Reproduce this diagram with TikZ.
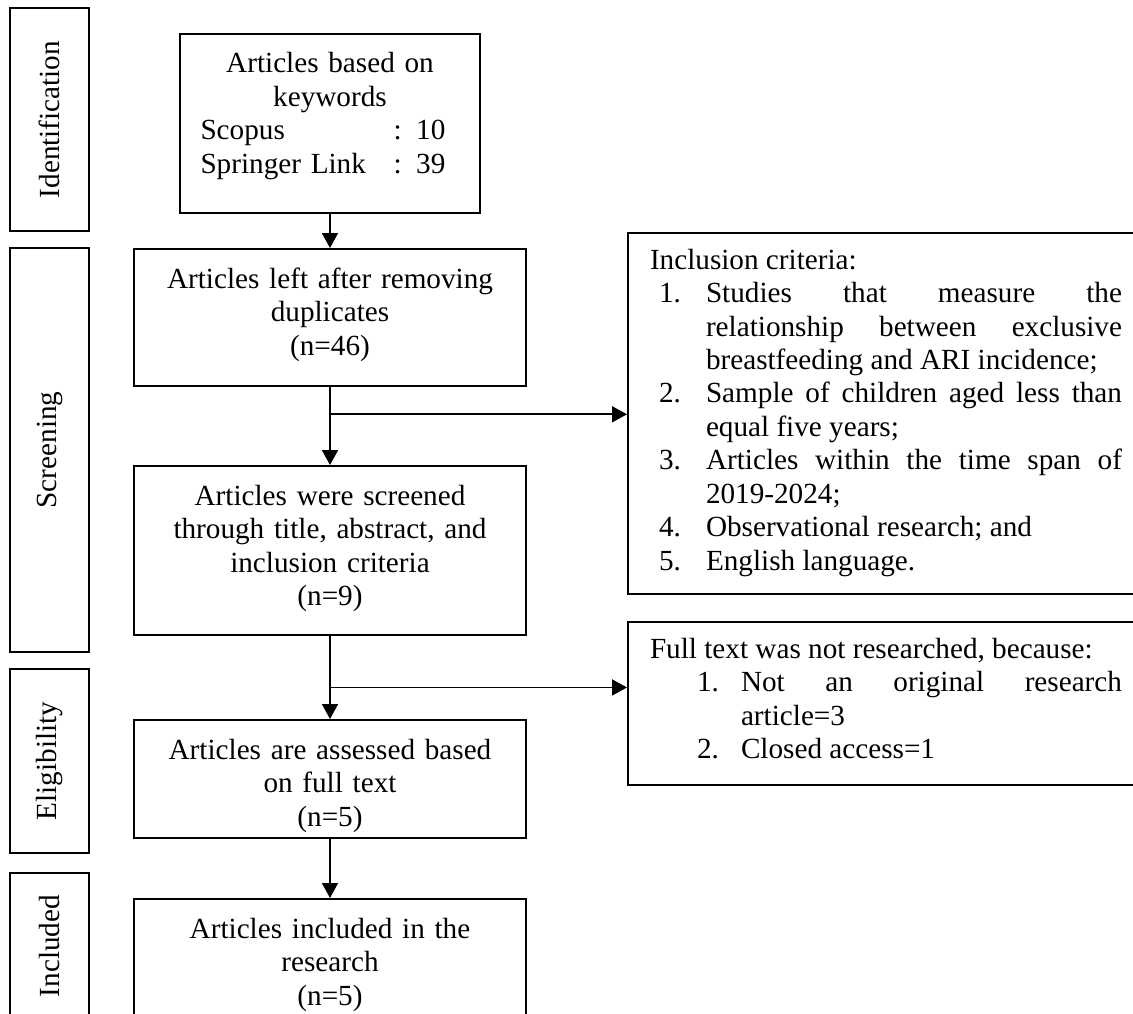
\documentclass[tikz,border=0pt]{standalone}
\usepackage{fontspec}
\setmainfont{Liberation Serif}
\usepackage{enumitem}
\setlist[enumerate]{label=\arabic*.,labelwidth=22pt,labelsep=*,align=left,itemindent=0pt,itemsep=0pt,topsep=0pt,parsep=0pt,partopsep=0pt}
\usetikzlibrary{arrows.meta,calc}

\begin{document}
\begin{tikzpicture}[
  x=1pt,y=-1pt,
  font=\fontsize{29.2}{33.5}\selectfont,
  phase/.style={draw,line width=2pt,rotate=90,minimum height=79pt,inner sep=0pt},
  stage/.style={draw,line width=2pt,anchor=north,align=center,text width=392pt,inner xsep=0pt,inner ysep=0pt,text height=39pt},
  sidenote/.style={draw,line width=2pt,anchor=north west,align=justify,text width=472pt,inner xsep=22pt,inner ysep=0pt,text height=36pt},
  flow/.style={-{Triangle[length=15pt,width=16pt]},line width=1.8pt}
]
\useasboundingbox (0,0) rectangle (1133,1014);

\node[phase,minimum width=223pt] (ident) at (49.5,119.5) {Identification};
\node[phase,minimum width=404pt] (screen) at (49.5,450) {Screening};
\node[phase,minimum width=184pt] (elig) at (49.5,761) {Eligibility};
\node[phase,minimum width=146pt] (incl) at (49.5,946) {Included};

\node[stage,text width=300pt,text depth=140pt] (keyword) at (330,33) {Articles based on\\keywords\\\makebox[259pt][l]{\makebox[193pt][l]{Scopus}: 10}\\\makebox[259pt][l]{\makebox[193pt][l]{Springer Link}: 39}};
\node[stage,text depth=98pt] (dedup) at (330,248) {Articles left after removing\\duplicates\\(n=46)};
\node[stage,text depth=130pt] (screened) at (330,465) {Articles were screened\\through title, abstract, and\\inclusion criteria\\(n=9)};
\node[stage,text depth=79pt] (fulltext) at (330,719) {Articles are assessed based\\on full text\\(n=5)};
\node[stage,text depth=93pt] (final) at (330,898) {Articles included in the\\research\\(n=5)};

\node[sidenote,text depth=325pt] (criteria) at (627,232) {Inclusion criteria:
\begin{enumerate}[labelindent=9pt,leftmargin=56pt]
\item Studies that measure the\linebreak relationship between exclusive\linebreak breastfeeding and ARI incidence;
\item Sample of children aged less than\linebreak equal five years;
\item Articles within the time span of\linebreak 2019-2024;
\item Observational research; and
\item English language.
\end{enumerate}};
\node[sidenote,text depth=127pt] (excluded) at (627,621) {Full text was not researched, because:
\begin{enumerate}[labelindent=47pt,leftmargin=91pt]
\item Not an original research\linebreak article=3
\item Closed access=1
\end{enumerate}};

\draw[flow] (keyword) -- (dedup);
\draw[flow] (dedup) -- (screened);
\coordinate (split1) at ($(dedup.south)!.35!(screened.north)$);
\draw[flow] (split1) -- (split1 -| criteria.west);
\draw[flow] (screened) -- (fulltext);
\coordinate (split2) at ($(screened.south)!.62!(fulltext.north)$);
\draw[flow] (split2) -- (split2 -| excluded.west);
\draw[flow] (fulltext) -- (final);
\end{tikzpicture}
\end{document}
